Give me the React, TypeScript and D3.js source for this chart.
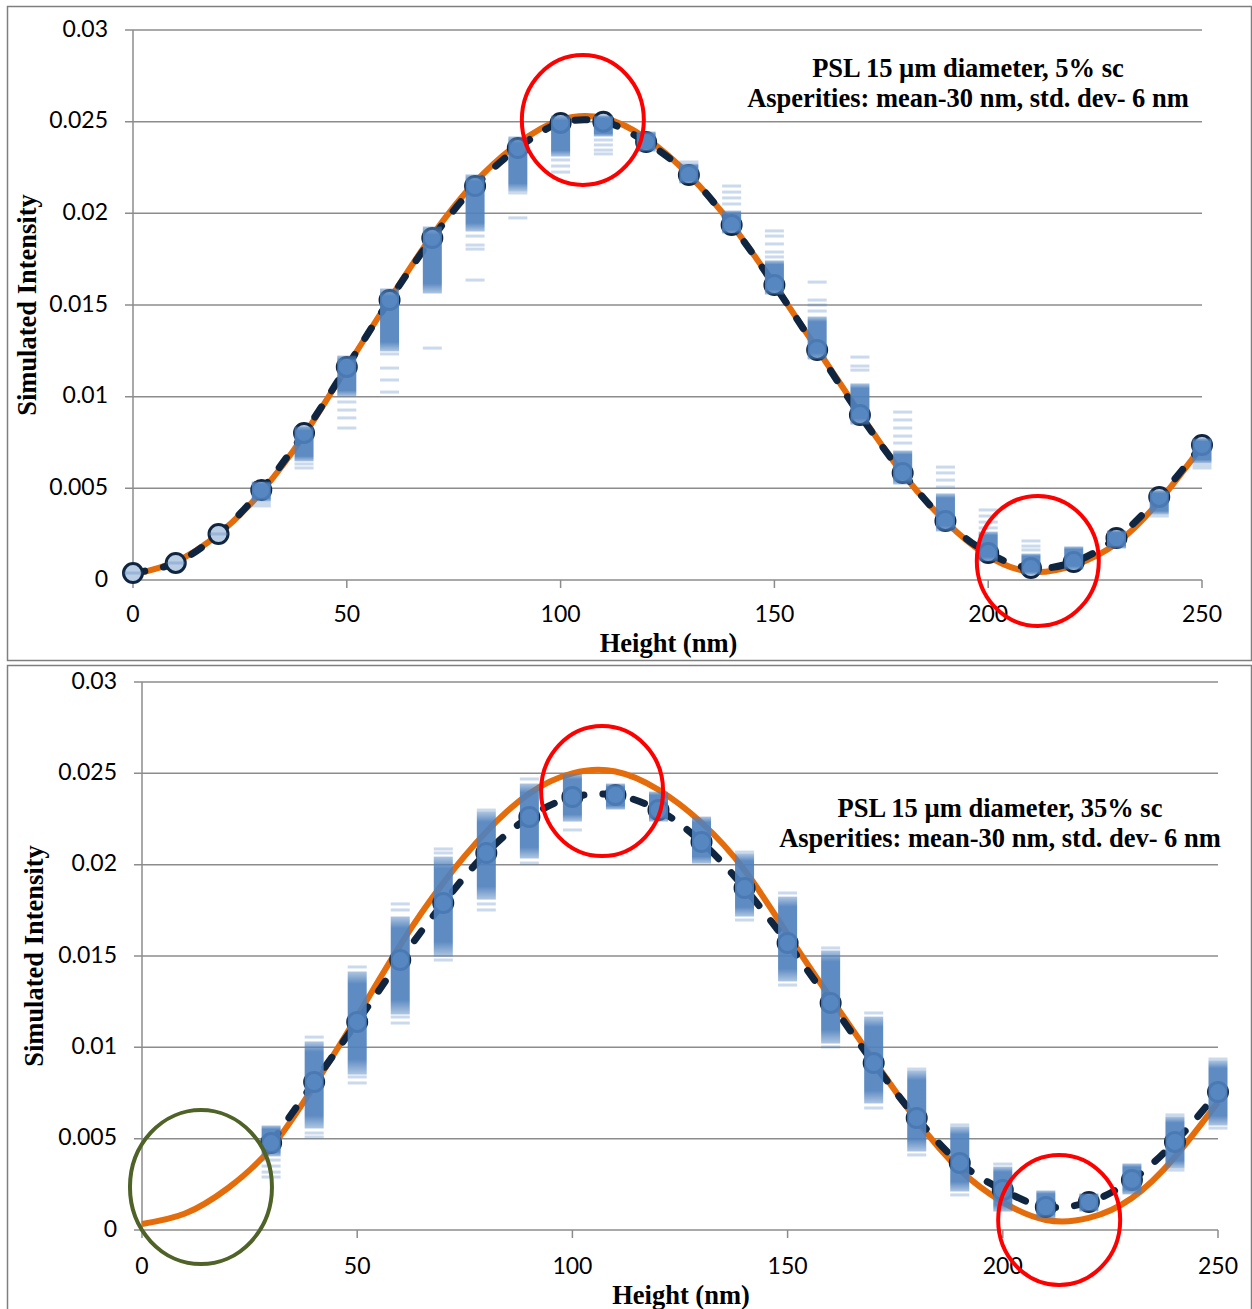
import * as d3 from "d3";

// heights (nm) shared by every series
const heights = [0, 10, 20, 30, 40, 50, 60, 70, 80, 90, 100, 110, 120, 130, 140, 150, 160, 170, 180, 190, 200, 210, 220, 230, 240, 250];
const xTicks = [0, 50, 100, 150, 200, 250];
const yTicks = [0, 0.005, 0.01, 0.015, 0.02, 0.025, 0.03];
const yTickLabels = ["0", "0.005", "0.01", "0.015", "0.02", "0.025", "0.03"];

// ---- top panel (5% sc)
const topTitle = ["PSL 15 µm diameter, 5% sc", "Asperities: mean-30 nm, std. dev- 6 nm"];
const topSmooth = [0.0003, 0.001, 0.0025, 0.0048, 0.0079, 0.0116, 0.0153, 0.0188, 0.0217, 0.0238, 0.0251, 0.0252, 0.0241, 0.0221, 0.0194, 0.0161, 0.0126, 0.0091, 0.0058, 0.0032, 0.0013, 0.00045, 0.0008, 0.002, 0.0043, 0.0073];
const topMean = [0.00038, 0.00093, 0.00251, 0.00491, 0.00802, 0.01162, 0.01527, 0.01865, 0.02149, 0.02356, 0.02493, 0.025, 0.02389, 0.02209, 0.01936, 0.01609, 0.01255, 0.009, 0.00584, 0.00322, 0.00147, 0.00065, 0.00098, 0.00229, 0.00453, 0.00736];
// dense part of each run cloud: [high, low]; null where only single runs show
const topBand = [null, null, null, [0.00529, 0.00436], [0.00829, 0.00655], [0.01216, 0.01009], [0.01582, 0.01255], [0.0192, 0.01571], [0.02204, 0.01909], [0.02411, 0.02127], [0.02525, 0.02318], [0.02525, 0.02427], [0.02438, 0.02345], [0.02264, 0.02171], [0.02007, 0.01898], [0.01735, 0.01565], [0.01429, 0.01211], [0.01064, 0.00856], [0.00698, 0.00529], [0.00464, 0.00273], [0.00256, 0.00109], [0.00136, 0.00038], [0.00175, 0.00065], [0.00262, 0.0018], [0.0048, 0.00365], [0.00764, 0.00644]];
const topRuns = [[0.00038], [0.00093], [0.00251], [0.0042, 0.00404], [0.00633, 0.00611], [0.00971, 0.00927, 0.00884, 0.00829], [0.01233, 0.01156, 0.01091, 0.01025], [0.01265], [0.01876, 0.01827, 0.01805, 0.01636], [0.02111, 0.01975], [0.02291, 0.02258, 0.02225], [0.024, 0.02373, 0.02345, 0.02324], [], [0.0228], [0.02149, 0.02116, 0.02084, 0.02051], [0.01904, 0.01876, 0.01833, 0.01789, 0.01762], [0.01625, 0.01527, 0.015, 0.01467], [0.01216, 0.01167, 0.01145], [0.00916, 0.00873, 0.00829, 0.00785, 0.00747], [0.00616, 0.00584, 0.00545, 0.00507], [0.00382, 0.00349, 0.00316, 0.00284], [0.00213, 0.00185, 0.00164], [], [], [0.00349], [0.00627, 0.00611]];
// annotation ellipses [height, intensity, colour]
const topMarks = [[105.2, 0.02509, "#ff0000"], [211.6, 0.00104, "#ff0000"]];

// ---- bottom panel (35% sc)
const botTitle = ["PSL 15 µm diameter, 35% sc", "Asperities: mean-30 nm, std. dev- 6 nm"];
const botSmooth = [0.00033, 0.0009, 0.0023, 0.0045, 0.0079, 0.0117, 0.0156, 0.019, 0.0218, 0.0239, 0.025, 0.0251, 0.0241, 0.0223, 0.0197, 0.0162, 0.0127, 0.0093, 0.006, 0.0033, 0.00153, 0.00055, 0.00066, 0.00175, 0.004, 0.007];
const botMean = [null, null, null, 0.00476, 0.0081, 0.01139, 0.01478, 0.0179, 0.02064, 0.02261, 0.0237, 0.02381, 0.02299, 0.02124, 0.01872, 0.01571, 0.01243, 0.00914, 0.00613, 0.00367, 0.00219, 0.00126, 0.00153, 0.00274, 0.00482, 0.00755];
const botBand = [null, null, null, [0.00564, 0.00411], [0.01024, 0.00564], [0.01407, 0.00859], [0.01708, 0.01188], [0.02036, 0.01505], [0.02283, 0.01817], [0.02436, 0.02042], [0.02491, 0.02244], [0.02436, 0.0231], [0.02392, 0.02244], [0.02255, 0.02014], [0.02053, 0.01724], [0.01817, 0.01369], [0.01522, 0.01029], [0.0116, 0.00701], [0.00865, 0.00438], [0.00558, 0.00219], [0.00339, 0.00109], [0.00208, 0.00071], [0.00192, 0.00109], [0.00356, 0.00203], [0.00613, 0.00345], [0.0092, 0.0058]];
const botRuns = [[], [], [], [0.00383, 0.0035, 0.00317, 0.0029], [0.01056, 0.00531, 0.00509], [0.0144, 0.00838, 0.00805], [0.01785, 0.01752, 0.01166, 0.01133], [0.02086, 0.02064, 0.01478], [0.02299, 0.01785, 0.01752], [0.02469, 0.02009], [0.0219], [], [], [], [0.02069, 0.01697], [0.01845, 0.01341], [0.01544, 0.01002], [0.01188, 0.00668], [0.00881, 0.00411], [0.00575, 0.00192], [0.00361], [], [], [], [0.0063, 0.00328], [0.00936, 0.00558]];
const botMarks = [[106.9, 0.02403, "#ff0000"], [213.1, 0.00055, "#ff0000"], [13.7, 0.00235, "#4f6228"]];

const NAVY = "#10253f";
const ORANGE = "#e46c0a";
const BLUE = "#4f81bd";
const GRID = "#8c8c8c";
const SERIF = "Liberation Serif";

const Panel = ({ frameY, frameH, left, right, top, bottom, tickLabelX, ylabX, xlabY, tickLabelY, titleX, titleY, title, smooth, mean, band, runs, marks }) => {
  const x = d3.scaleLinear().domain([0, 250]).range([left, right]);
  const y = d3.scaleLinear().domain([0, 0.03]).range([bottom, top]);

  const smoothLine = d3
    .line()
    .x((d) => x(d[0]))
    .y((d) => y(d[1]))
    .curve(d3.curveNatural);
  const meanLine = d3
    .line()
    .defined((d) => d[1] != null)
    .x((d) => x(d[0]))
    .y((d) => y(d[1]))
    .curve(d3.curveCatmullRom);

  const smoothPts = heights.map((h, i) => [h, smooth[i]]);
  const meanPts = heights.map((h, i) => [h, mean[i]]);

  return (
    <g>
      <rect x={7.5} y={frameY} width={1244} height={frameH} fill="#fff" stroke="#7f7f7f" strokeWidth={1.5} />
      {/* gridlines */}
      {yTicks.map((t) => (
        <line key={t} x1={left - 8} x2={right} y1={y(t)} y2={y(t)} stroke={GRID} strokeWidth={1.5} />
      ))}
      <line x1={left} x2={left} y1={top} y2={bottom} stroke={GRID} strokeWidth={1.5} />
      {xTicks.map((t) => (
        <line key={t} x1={x(t)} x2={x(t)} y1={bottom} y2={bottom + 8} stroke={GRID} strokeWidth={1.5} />
      ))}
      {yTicks.map((t, i) => (
        <text key={t} x={tickLabelX} y={y(t) + 1} textAnchor="end" dominantBaseline="middle" fontFamily="Lato" fontSize={23} fill="#000">
          {yTickLabels[i]}
        </text>
      ))}
      {xTicks.map((t) => (
        <text key={t} x={x(t)} y={tickLabelY} textAnchor="middle" fontFamily="Lato" fontSize={23} fill="#000">
          {t}
        </text>
      ))}
      <text x={(left + right) / 2 + 1} y={xlabY} textAnchor="middle" fontFamily={SERIF} fontWeight="bold" fontSize={26.5}>
        Height (nm)
      </text>
      <text
        transform={`translate(${ylabX}, ${(top + bottom) / 2}) rotate(-90)`}
        textAnchor="middle"
        fontFamily={SERIF}
        fontWeight="bold"
        fontSize={26.5}
      >
        Simulated Intensity
      </text>
      {title.map((s, i) => (
        <text key={i} x={titleX} y={titleY + i * 30} textAnchor="middle" fontFamily={SERIF} fontWeight="bold" fontSize={26.5}>
          {s}
        </text>
      ))}

      {/* smooth fit */}
      <path d={smoothLine(smoothPts)} fill="none" stroke={ORANGE} strokeWidth={6} />
      {/* mean with markers */}
      <path d={meanLine(meanPts)} fill="none" stroke={NAVY} strokeWidth={7} strokeDasharray="12,19" strokeLinecap="round" />
      {meanPts
        .filter((d) => d[1] != null)
        .map((d) => (
          <circle key={d[0]} cx={x(d[0])} cy={y(d[1])} r={9.5} fill="#b9cde5" stroke={NAVY} strokeWidth={3} />
        ))}

      {/* individual runs */}
      {heights.map((h, i) =>
        band[i] ? (
          <rect key={"b" + h} x={x(h) - 9.5} y={y(band[i][0]) - 1.5} width={19} height={y(band[i][1]) - y(band[i][0]) + 3} fill="url(#runFade)" />
        ) : null
      )}
      {heights.map((h, i) =>
        runs[i].map((v, j) => (
          <rect key={"r" + h + "-" + j} x={x(h) - 9.5} y={y(v) - 1.5} width={19} height={3} fill={BLUE} opacity={0.3} />
        ))
      )}

      {/* highlight ellipses */}
      {marks.map((m, i) => (
        <ellipse
          key={i}
          cx={x(m[0])}
          cy={y(m[1])}
          rx={m[2] === "#ff0000" ? 61 : 71}
          ry={m[2] === "#ff0000" ? 65 : 77}
          fill="none"
          stroke={m[2]}
          strokeWidth={4}
        />
      ))}
    </g>
  );
};

export default function App() {
  return (
    <svg width={1252} height={1309} style={{ position: "absolute", left: 0, top: 0, background: "#fff" }}>
      <defs>
        <linearGradient id="runFade" x1="0" y1="0" x2="0" y2="1">
          <stop offset="0%" stopColor={BLUE} stopOpacity={0.45} />
          <stop offset="12%" stopColor={BLUE} stopOpacity={0.92} />
          <stop offset="85%" stopColor={BLUE} stopOpacity={0.92} />
          <stop offset="100%" stopColor={BLUE} stopOpacity={0.45} />
        </linearGradient>
      </defs>
      <Panel
        frameY={6.5}
        frameH={654}
        left={133}
        right={1202}
        top={30}
        bottom={580}
        tickLabelX={108}
        tickLabelY={622}
        ylabX={36}
        xlabY={652}
        titleX={968}
        titleY={77}
        title={topTitle}
        smooth={topSmooth}
        mean={topMean}
        band={topBand}
        runs={topRuns}
        marks={topMarks}
      />
      <Panel
        frameY={665.5}
        frameH={660}
        left={142}
        right={1218}
        top={682}
        bottom={1230}
        tickLabelX={117}
        tickLabelY={1274}
        ylabX={43}
        xlabY={1304}
        titleX={1000}
        titleY={817}
        title={botTitle}
        smooth={botSmooth}
        mean={botMean}
        band={botBand}
        runs={botRuns}
        marks={botMarks}
      />
    </svg>
  );
}
